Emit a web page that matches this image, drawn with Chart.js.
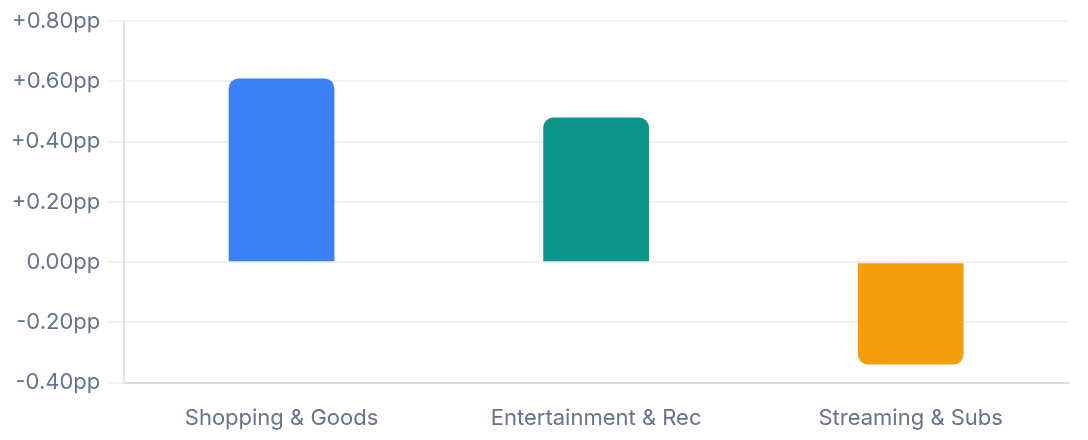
<!DOCTYPE html>
<html>
<head>
<meta charset="utf-8">
<script src="https://cdn.jsdelivr.net/npm/chart.js@4/dist/chart.umd.min.js"></script>
<style>
  html, body { margin: 0; padding: 0; background: #fff; }
  #wrap { width: 1088px; height: 440px; position: relative; }
</style>
</head>
<body>
<div id="wrap"><canvas id="deltaChart"></canvas></div>
<script>
const categories = ['Shopping & Goods', 'Entertainment & Rec', 'Streaming & Subs'];
const deltas = [0.61, 0.48, -0.34];
const barColors = ['#3b82f6', '#0d9488', '#f59e0b'];
const yTicks = [-0.4, -0.2, 0, 0.2, 0.4, 0.6, 0.8];

function fmtPP(v) {
  const s = Number(v).toFixed(2);
  return (v > 0.0001 ? '+' : '') + (Math.abs(v) < 0.0001 ? '0.00' : s) + 'pp';
}

const fontFamily = 'Inter, "Helvetica Neue", Arial, sans-serif';

const ctx = document.getElementById('deltaChart');
new Chart(ctx, {
  type: 'bar',
  data: {
    labels: categories,
    datasets: [{
      data: deltas,
      backgroundColor: barColors,
      borderRadius: 10,
      borderSkipped: 'start',
      barPercentage: 0.42,
      categoryPercentage: 0.8,
    }],
  },
  options: {
    responsive: true,
    maintainAspectRatio: false,
    animation: false,
    layout: { padding: { top: 8, right: 20, bottom: 0, left: 3 } },
    plugins: {
      legend: { display: false },
      tooltip: { enabled: false },
    },
    scales: {
      x: {
        // tick marks kept only for spacing under the axis
        grid: { display: true, drawOnChartArea: false, color: 'transparent', tickLength: 15 },
        border: { color: '#dddddd', width: 2 },
        ticks: {
          color: '#64748b',
          padding: 8,
          font: { family: fontFamily, size: 22 },
        },
      },
      y: {
        min: yTicks[0],
        max: yTicks[yTicks.length - 1],
        afterBuildTicks: axis => { axis.ticks = yTicks.map(v => ({ value: v })); },
        grid: { color: '#f1f1f1', lineWidth: 2, tickLength: 16 },
        border: { color: '#e5e5e5', width: 2 },
        ticks: {
          color: '#64748b',
          padding: 8,
          font: { family: fontFamily, size: 22 },
          callback: v => fmtPP(v),
        },
      },
    },
  },
});
</script>
</body>
</html>
